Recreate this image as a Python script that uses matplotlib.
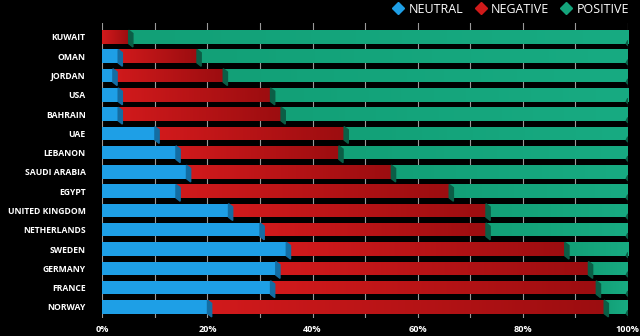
import numpy as np
import matplotlib.pyplot as plt
from matplotlib.colors import LinearSegmentedColormap
from matplotlib.lines import Line2D
from matplotlib.patches import Polygon

countries = ["KUWAIT", "OMAN", "JORDAN", "USA", "BAHRAIN", "UAE", "LEBANON",
             "SAUDI ARABIA", "EGYPT", "UNITED KINGDOM", "NETHERLANDS", "SWEDEN",
             "GERMANY", "FRANCE", "NORWAY"]
neutral = [0, 3, 2, 3, 3, 10, 14, 16, 14, 24, 30, 35, 33, 32, 20]
negative = [5, 15, 21, 29, 31, 36, 31, 39, 52, 49, 43, 53, 59.5, 62, 75.5]
positive = [95, 82, 77, 68, 66, 54, 55, 45, 34, 27, 27, 12, 7.5, 6, 4.5]

blue = "#1e9fe6"
red = "#c8161b"
green = "#14a47b"

plt.rcParams['font.family'] = ['Open Sans', 'DejaVu Sans']

fig = plt.figure(figsize=(6.4, 3.36), dpi=100, facecolor="black")
ax = fig.add_axes([0.16, 0.054, 0.821, 0.878])
ax.set_facecolor("black")

y = np.arange(len(countries))
h = 0.7
neutral = np.array(neutral, dtype=float)
negative = np.array(negative, dtype=float)
positive = np.array(positive, dtype=float)

b1 = ax.barh(y, neutral, height=h, color=blue, zorder=2)
b2 = ax.barh(y, negative, left=neutral, height=h, color=red, zorder=2)
b3 = ax.barh(y, positive, left=neutral + negative, height=h, color=green, zorder=2)

# gradients on the red and green segments
grad = np.linspace(0, 1, 256).reshape(1, -1)
red_cmap = LinearSegmentedColormap.from_list("r", ["#d21a1c", "#9c0d10"])
green_cmap = LinearSegmentedColormap.from_list("g", ["#12a077", "#18ab82"])
for bars, cmap in [(b2, red_cmap), (b3, green_cmap)]:
    for bar in bars:
        x0, w = bar.get_x(), bar.get_width()
        if w <= 0:
            continue
        yb = bar.get_y()
        im = ax.imshow(grad, cmap=cmap, aspect="auto", zorder=2.5,
                       extent=[x0, x0 + w, yb + bar.get_height(), yb])
        im.set_clip_path(bar)

# 3d side faces
d, dy = 0.8, 0.17
for i in range(len(countries)):
    top, bot = y[i] - h / 2, y[i] + h / 2
    if neutral[i] > 0:
        x = neutral[i]
        ax.add_patch(Polygon([(x, top), (x + d, top + dy), (x + d, bot + dy), (x, bot)],
                             closed=True, color="#136da3", zorder=3))
    x = neutral[i] + negative[i]
    ax.add_patch(Polygon([(x, top), (x + d, top + dy), (x + d, bot + dy), (x, bot)],
                         closed=True, color="#0b5e46", zorder=3))
    x = 100
    ax.add_patch(Polygon([(x - 0.3, bot), (x, bot - dy), (x, bot + dy * 0.6)],
                         closed=True, color="#0b5e46", zorder=3))

ax.set_xlim(0, 100)
ax.set_ylim(len(countries) - 1 + 0.57, -0.73)
ax.set_xticks(np.arange(0, 101, 10))
ax.set_xticklabels([f"{v}%" if v % 20 == 0 else "" for v in range(0, 101, 10)])
ax.grid(axis="x", color="#9a9a9a", linewidth=0.8, zorder=0)
ax.set_axisbelow(True)
ax.set_yticks(y)
ax.set_yticklabels(countries)
ax.tick_params(axis="y", length=0, pad=12, labelsize=6.2, labelcolor="white")
ax.tick_params(axis="x", length=0, pad=5, labelsize=6.6, labelcolor="white")
for lab in ax.get_xticklabels() + ax.get_yticklabels():
    lab.set_fontweight("bold")
for s in ax.spines.values():
    s.set_visible(False)

handles = [Line2D([], [], marker="D", linestyle="", color=c, markersize=6)
           for c in [blue, "#d01a1a", green]]
fig.legend(handles, ["NEUTRAL", "NEGATIVE", "POSITIVE"], loc="upper right",
           bbox_to_anchor=(1.0, 1.025), ncol=3, frameon=False, fontsize=9,
           labelcolor="white", handlelength=0.8, handletextpad=0.4,
           columnspacing=1.0)

fig.savefig("out.png", dpi=100, facecolor="black")
